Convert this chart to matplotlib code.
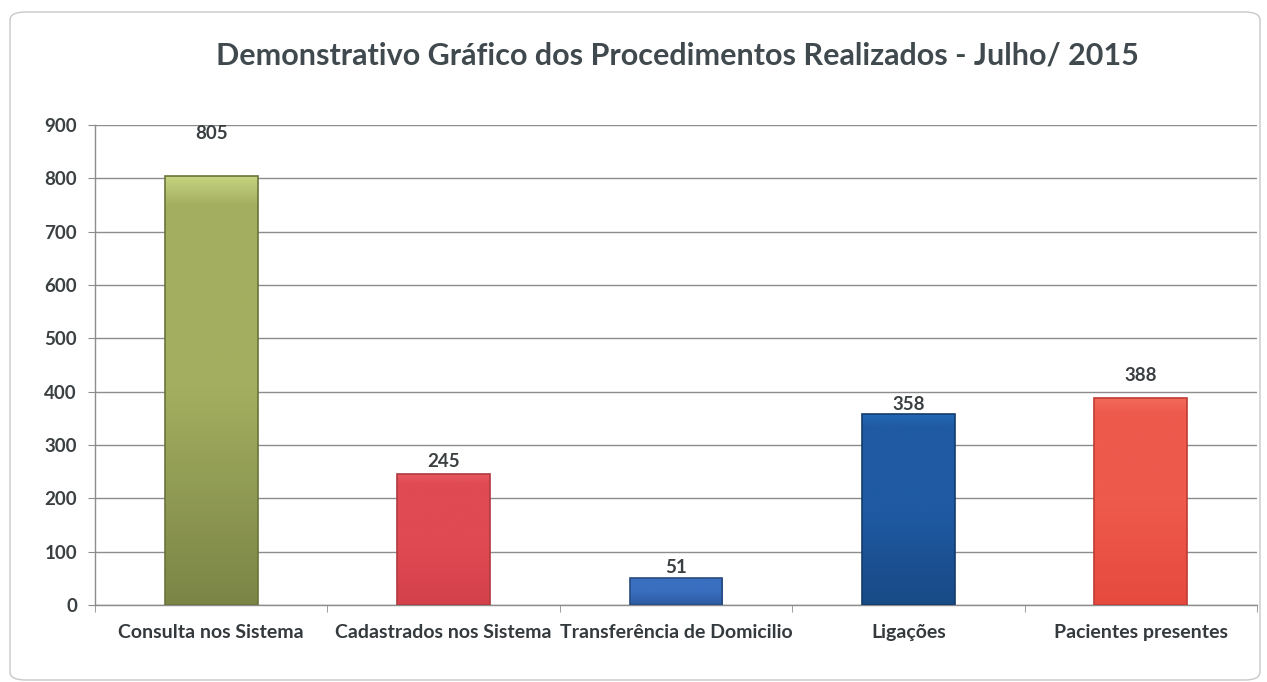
import matplotlib
matplotlib.use("Agg")
import matplotlib.pyplot as plt
import numpy as np
from matplotlib.patches import FancyBboxPatch
from matplotlib.colors import LinearSegmentedColormap

categories = ["Consulta nos Sistema", "Cadastrados nos Sistema", "Transferência de Domicilio",
              "Ligações", "Pacientes presentes"]
values = [805, 245, 51, 358, 388]
title = "Demonstrativo Gráfico dos Procedimentos Realizados - Julho/ 2015"
yticks = [0, 100, 200, 300, 400, 500, 600, 700, 800, 900]

# (top, middle, bottom) gradient colours per bar
bar_colors = [("#c6d580", "#a3ae60", "#7b8546"), ("#e85a62", "#e04a53", "#d4414a"),
              ("#5a8ed4", "#3a6fc0", "#2c5aa0"), ("#2468b4", "#1f5aa2", "#184a86"),
              ("#f26a5a", "#ee5a4c", "#e64a3e")]
edge_colors = ["#6a7439", "#b03a40", "#284c80", "#143c6c", "#c03c33"]
label_offsets = [24, 3, 1.5, 0.5, 10]  # points above bar top

plt.rcParams['font.family'] = ['Lato', 'DejaVu Sans']

fig = plt.figure(figsize=(12.67, 6.82), dpi=100)
fig.patch.set_facecolor("white")

border = FancyBboxPatch((10 / 1267, 2 / 682), 1250 / 1267, 668 / 682,
                        boxstyle="round,pad=0,rounding_size=0.012",
                        transform=fig.transFigure, facecolor="none",
                        edgecolor="#c8c8c8", linewidth=1.0, zorder=-5)
fig.patches.append(border)

ax = fig.add_axes([95 / 1267, 1 - 605 / 682, 1162 / 1267, 480 / 682])
ax.set_facecolor("none")

x = np.arange(len(categories))
width = 0.4
bars = ax.bar(x, values, width=width, color="none", edgecolor="none", zorder=3)

for i, (b, v) in enumerate(zip(bars, values)):
    top, mid, bot = bar_colors[i]
    cmap = LinearSegmentedColormap.from_list(f"g{i}", [(0, bot), (0.5, mid), (0.93, mid), (1, top)])
    grad = np.linspace(0, 1, 256).reshape(-1, 1)
    im = ax.imshow(grad, extent=(b.get_x(), b.get_x() + b.get_width(), 0, v),
                   origin="lower", aspect="auto", cmap=cmap, zorder=3)
    im.set_clip_path(b)
    ax.bar(b.get_x() + b.get_width() / 2, v, width=width, color="none",
           edgecolor=edge_colors[i], linewidth=1.2, zorder=4)
    ax.annotate(str(v), (b.get_x() + b.get_width() / 2, v), xytext=(0, label_offsets[i]),
                textcoords="offset points", ha="center", va="bottom",
                fontsize=13.5, fontweight="bold", color="#3a3f42", zorder=5)

ax.set_xlim(-0.5, len(categories) - 0.5)
ax.set_ylim(0, 900)
ax.set_yticks(yticks)
ax.set_yticklabels([str(t) for t in yticks], fontsize=13.5, fontweight="bold", color="#3a3f42")
ax.yaxis.grid(True, color="#8c8c8c", linewidth=1.0, zorder=0)
ax.set_axisbelow(True)

ax.set_xticks(x)
ax.set_xticklabels(categories, fontsize=14, fontweight="bold", color="#33393c")
ax.tick_params(axis="x", which="major", length=0, pad=14)
ax.set_xticks(np.arange(-0.5, len(categories) + 0.5, 1), minor=True)
ax.tick_params(axis="x", which="minor", length=5, color="#8c8c8c", direction="out")
ax.tick_params(axis="y", length=5, color="#8c8c8c", pad=8)

for s in ["top", "right"]:
    ax.spines[s].set_visible(False)
for s in ["left", "bottom"]:
    ax.spines[s].set_color("#8c8c8c")
    ax.spines[s].set_linewidth(1.0)

fig.text(677 / 1267, 1 - 55 / 682, title, ha="center", va="center",
         fontsize=22, fontweight="bold", color="#404a4e")

fig.savefig("out.png", dpi=100, facecolor="white")
